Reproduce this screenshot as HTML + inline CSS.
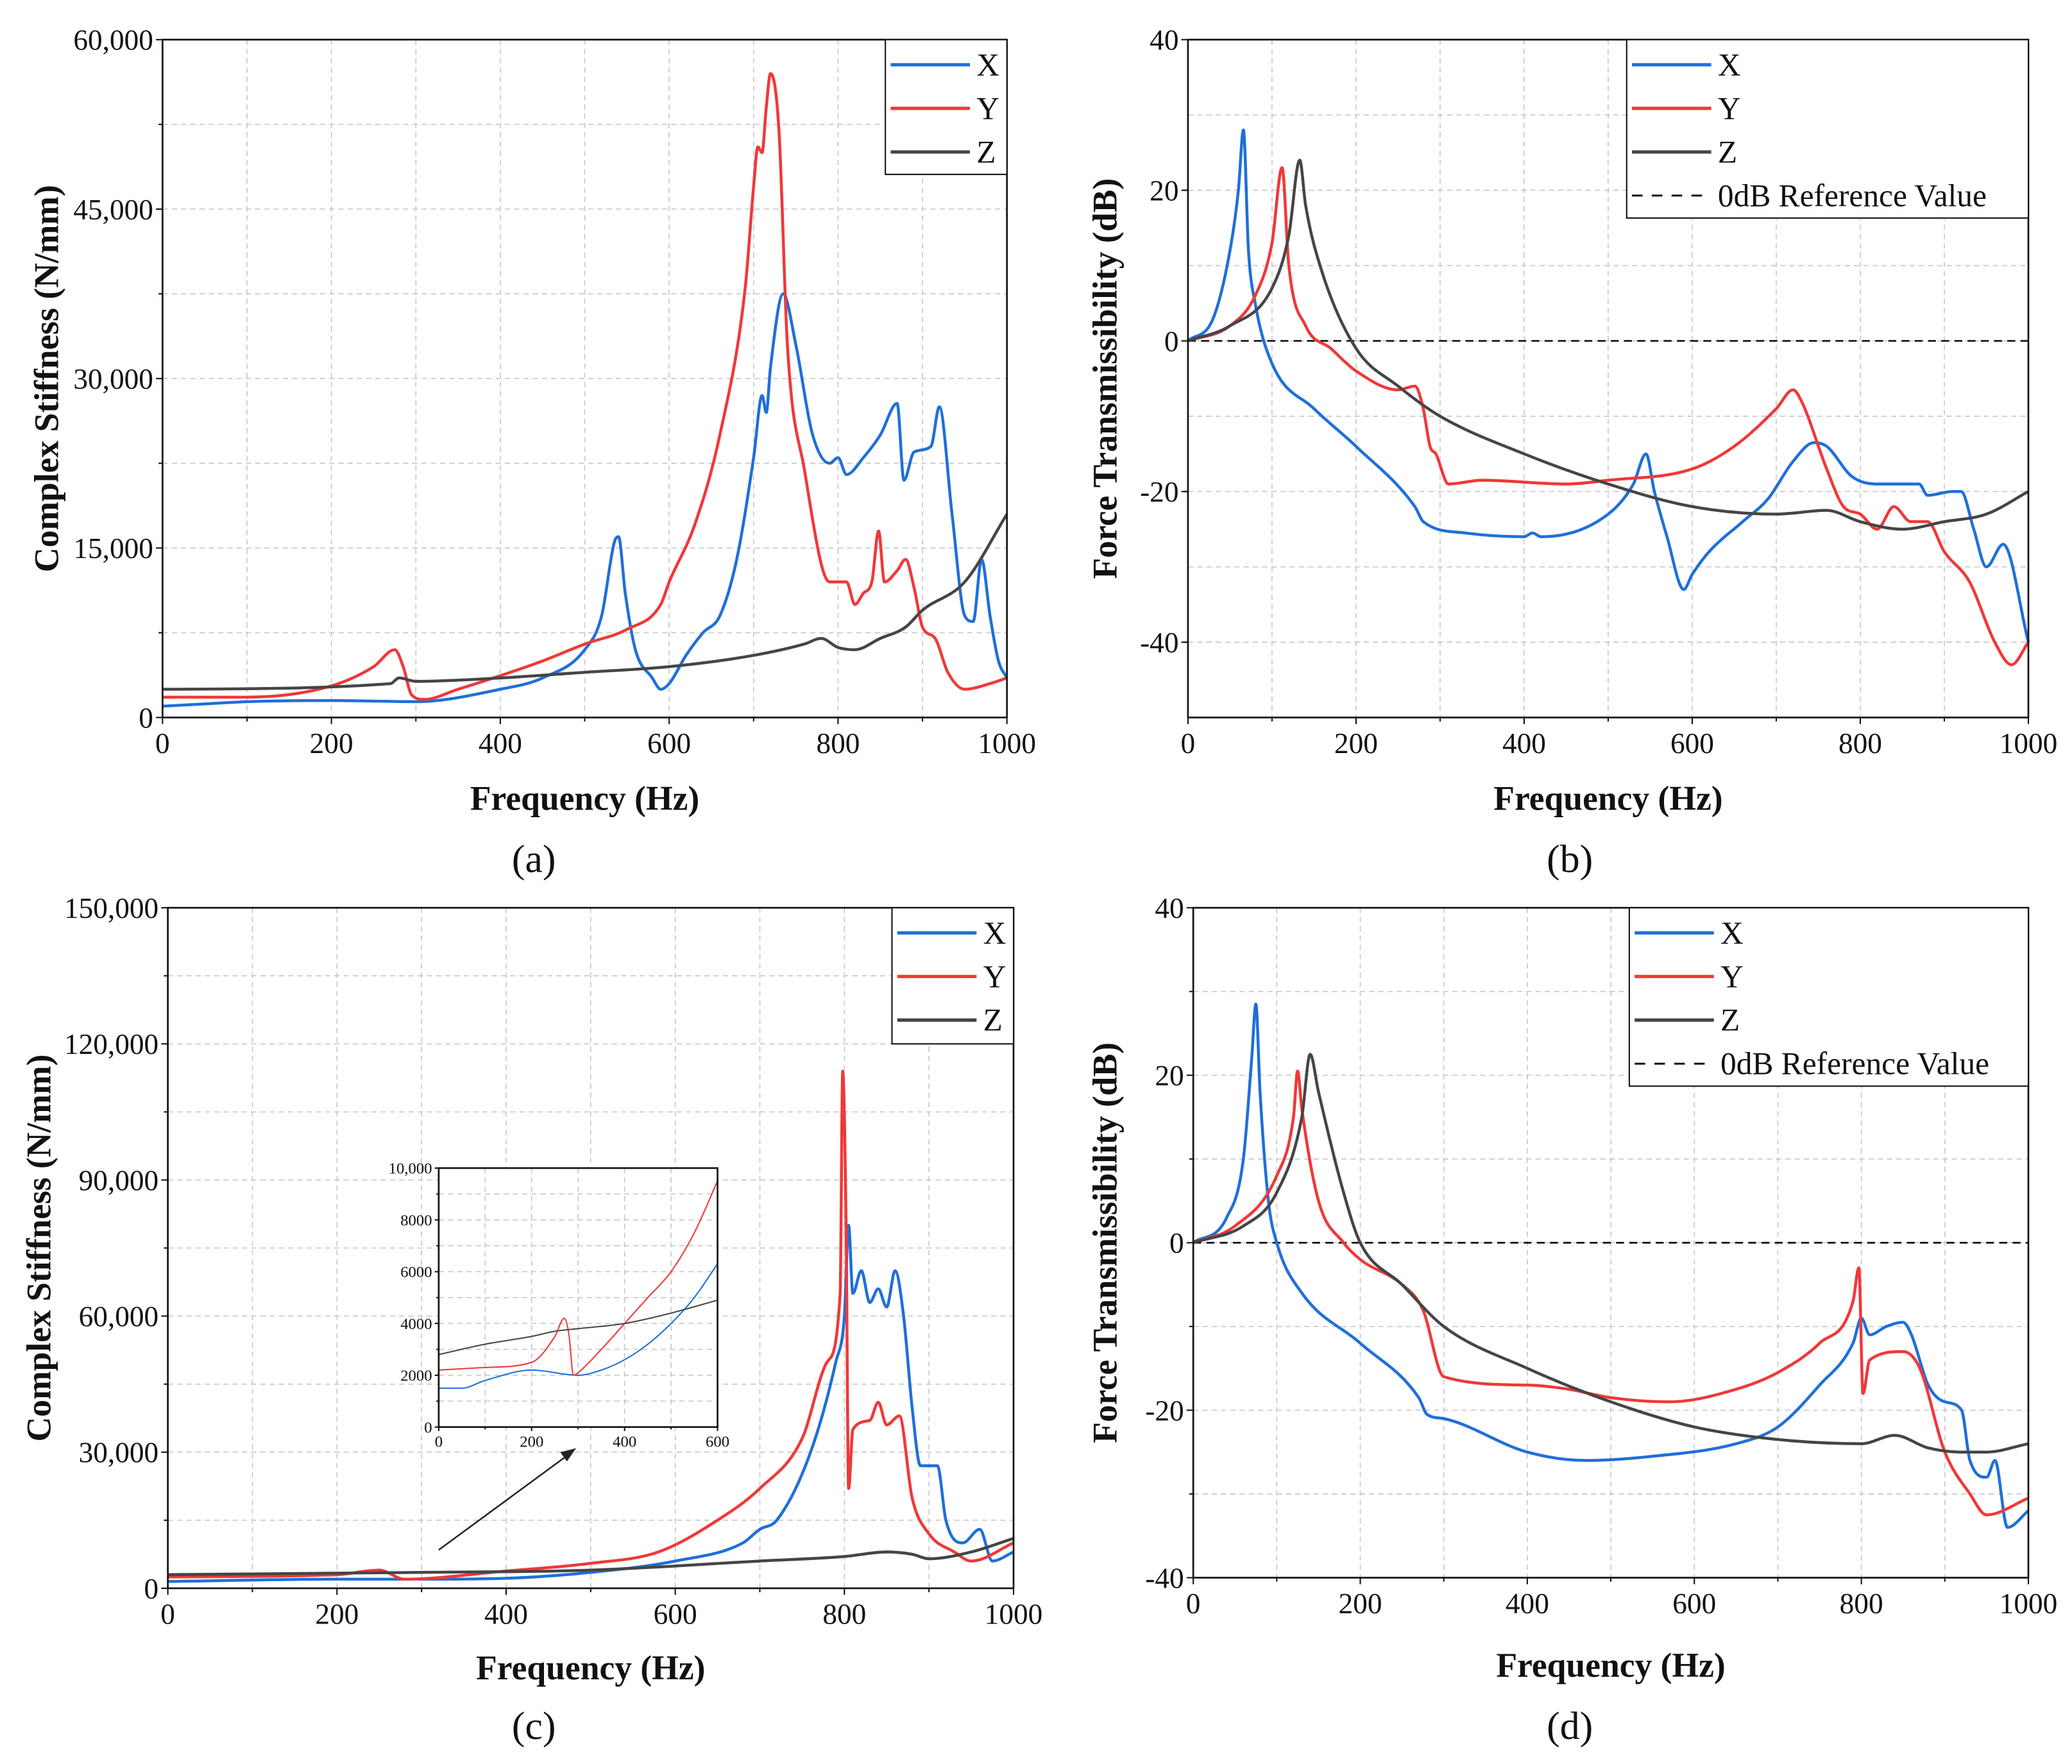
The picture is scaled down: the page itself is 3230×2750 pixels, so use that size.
<!DOCTYPE html>
<html><head><meta charset="utf-8"><style>
html,body{margin:0;padding:0;background:#fff}
svg{display:block}
text{font-family:"Liberation Serif",serif;fill:#111}
</style></head><body>
<svg id="fig" width="3230" height="2750" viewBox="0 0 1568 1335" xmlns="http://www.w3.org/2000/svg"></svg>
<script>
// ---- Data ----
const aF_X=[0,50,100,200,300,400,450,500,520,535,540,548,560,580,590,600,620,640,660,680,700,710,715,720,735,750,770,790,800,810,830,850,870,878,890,910,920,935,950,960,970,980,990,1000];
const aV_X=[1000,1200,1400,1500,1400,2500,3500,6000,9000,15500,16000,11000,6000,3500,2500,3000,5500,7500,9000,14000,23000,28500,27000,31000,37500,33000,25000,22500,23000,21500,23000,25000,27800,21000,23500,24000,27500,18000,9000,8500,14000,9000,5000,3500];
const aF_Y=[0,100,200,250,275,285,295,310,350,400,450,500,550,590,600,630,660,690,700,705,710,715,720,730,740,760,790,810,820,830,840,848,855,870,880,890,900,915,930,950,980,1000];
const aV_Y=[1800,1800,2800,4500,6000,4500,2000,1600,2500,3700,5000,6500,7800,10000,12000,17000,25000,38000,47000,50500,50000,54000,57000,52000,33000,22000,12000,12000,10000,11000,12000,16500,12000,13000,14000,11500,8000,7000,4000,2500,3000,3500];
const aF_Z=[0,270,280,300,400,500,600,700,760,780,800,820,850,880,900,950,1000];
const aV_Z=[2500,3000,3500,3200,3500,4000,4500,5500,6500,7000,6200,6000,7000,8000,9500,12000,18000];

const bF_X=[0,30,50,60,66,72,80,100,150,200,270,280,330,400,410,420,500,530,545,555,570,590,600,620,660,690,720,745,760,790,820,870,880,910,920,935,950,970,1000];
const bV_X=[0,3,12,20,28,12,5,-3,-9,-14,-22,-24,-25.5,-26,-25.5,-26,-23,-19,-15,-20,-26,-33,-31,-28,-24,-21,-16,-13.5,-14,-18,-19,-19,-20.5,-20,-20,-25,-30,-27,-40];
const bF_Y=[0,50,80,100,112,120,140,170,200,250,270,280,288,295,310,350,450,500,600,650,700,720,730,760,780,800,820,840,860,880,900,930,960,980,1000];
const bV_Y=[0,2,6,13,23,10,2,-1,-4,-6.5,-6,-9,-14,-15,-19,-18.5,-19,-18.5,-17,-14,-9,-6.5,-8,-17,-22,-23,-25,-22,-24,-24,-28,-32,-40,-43,-40];
const bF_Z=[0,50,100,120,133,140,160,200,250,300,400,500,600,700,760,800,850,900,950,1000];
const bV_Z=[0,2,7,14,24,18,9,-1,-6,-10,-15,-19,-22,-23,-22.5,-24,-25,-24,-23,-20];

const cF_X=[0,200,300,400,500,600,680,700,720,760,790,800,805,810,820,830,840,850,860,870,880,890,910,920,940,960,975,1000];
const cV_X=[1500,2000,2000,2200,3500,6000,10000,13000,15000,30000,50000,60000,80000,65000,70000,63000,66000,62000,70000,60000,40000,27000,27000,15000,10000,13000,6000,8000];
const cF_Y=[0,200,250,280,400,500,580,650,700,750,780,795,798,802,805,810,830,840,850,865,880,900,930,950,1000];
const cV_Y=[2500,3000,4000,2000,3800,5500,8000,15000,22000,33000,50000,65000,114000,80000,22000,35000,37000,41000,36000,38000,20000,12000,8000,6000,10000];
const cF_Z=[0,300,500,700,800,850,880,900,950,1000];
const cV_Z=[3000,3500,4000,6000,7000,8000,7500,6500,8000,11000];

const iF_X=[0,50,100,200,300,350,400,450,500,550,600];
const iV_X=[1500,1500,1800,2200,2000,2200,2600,3200,4000,5000,6300];
const iF_Y=[0,100,200,250,270,280,290,300,350,400,450,500,550,600];
const iV_Y=[2200,2300,2500,3500,4200,3600,2000,2100,3000,4000,5000,6000,7500,9500];
const iF_Z=[0,100,200,250,300,400,500,600];
const iV_Z=[2800,3200,3500,3700,3800,4000,4400,4900];

const dF_X=[0,40,60,70,75,80,90,100,130,200,270,280,300,400,470,550,650,700,750,790,800,810,830,850,860,880,900,920,930,950,960,975,1000];
const dV_X=[0,3,10,22,28.5,18,5,0,-6,-12,-18.5,-20.5,-21,-25,-26,-25.5,-24,-22,-17,-12,-9,-11,-10,-9.5,-11,-17,-19,-20,-26,-28,-26,-34,-32];
const dF_Y=[0,50,100,120,125,130,150,180,200,250,275,300,400,450,500,570,650,700,750,790,797,802,810,850,870,900,930,950,1000];
const dV_Y=[0,2,8,15,20.5,16,5,0,-2,-5,-8,-16,-17,-17.5,-18.5,-19,-17.5,-15.5,-12,-7,-3,-18,-14,-13,-15,-25,-30,-32.5,-30.5];
const dF_Z=[0,60,100,130,140,150,180,200,250,300,400,500,600,700,800,840,880,920,950,1000];
const dV_Z=[0,2,6,15,22.5,18,6,0,-5,-10,-15,-19,-22,-23.5,-24,-23,-24.5,-25,-25,-24];

const xTicks=[0,200,400,600,800,1000];
const aYTicks=[0,15000,30000,45000,60000];
const bYTicks=[-40,-20,0,20,40];
const cYTicks=[0,30000,60000,90000,120000,150000];
const iYTicks=[0,2000,4000,6000,8000,10000];
const iXTicks=[0,200,400,600];

const BLUE='#1f6fd9',RED='#f03838',GRAY='#454545';
const NS='http://www.w3.org/2000/svg';
const svg=document.getElementById('fig');
function mk(tag,attrs,parent){const e=document.createElementNS(NS,tag);for(const k in attrs)e.setAttribute(k,attrs[k]);(parent||svg).appendChild(e);return e;}
function fmt(v){return Math.abs(v)>=10000?v.toLocaleString('en-US'):String(v);}

// monotone cubic path through pixel points
function smoothPath(X,Y){
  const n=X.length;if(n<3)return X.map((x,i)=>(i?'L':'M')+x+','+Y[i]).join(' ');
  const d=[],m=new Array(n);
  for(let i=0;i<n-1;i++)d.push((Y[i+1]-Y[i])/(X[i+1]-X[i]));
  m[0]=d[0];m[n-1]=d[n-2];
  for(let i=1;i<n-1;i++){m[i]=(d[i-1]*d[i]<=0)?0:(d[i-1]+d[i])/2;}
  for(let i=0;i<n-1;i++){
    if(d[i]===0){m[i]=0;m[i+1]=0;continue;}
    const a=m[i]/d[i],b=m[i+1]/d[i],s=a*a+b*b;
    if(s>9){const t=3/Math.sqrt(s);m[i]=t*a*d[i];m[i+1]=t*b*d[i];}
  }
  let p='M'+X[0].toFixed(2)+','+Y[0].toFixed(2);
  for(let i=0;i<n-1;i++){
    const h=(X[i+1]-X[i])/3;
    p+=' C'+(X[i]+h).toFixed(2)+','+(Y[i]+m[i]*h).toFixed(2)+' '+(X[i+1]-h).toFixed(2)+','+(Y[i+1]-m[i+1]*h).toFixed(2)+' '+X[i+1].toFixed(2)+','+Y[i+1].toFixed(2);
  }
  return p;
}

function panel(p){
  const g=mk('g',{});
  
  
  const sx=v=>p.x0+(v-p.xmin)/(p.xmax-p.xmin)*(p.x1-p.x0);
  const sy=v=>p.y1-(v-p.ymin)/(p.ymax-p.ymin)*(p.y1-p.y0);
  const xs=p.xStep/2, ys=p.yStep/2;
  for(let v=p.xmin+xs;v<p.xmax-1e-9;v+=xs){const l=mk('line',{x1:sx(v),x2:sx(v),y1:p.y0,y2:p.y1,stroke:'#c8c8c8','stroke-width':0.8,'stroke-dasharray':'4,3'},g);}
  for(let v=p.ymin+ys;v<p.ymax-1e-9;v+=ys){const l=mk('line',{x1:p.x0,x2:p.x1,y1:sy(v),y2:sy(v),stroke:'#c8c8c8','stroke-width':0.8,'stroke-dasharray':'4,3'},g);}
  if(p.zeroRef){const l=mk('line',{x1:p.x0,x2:p.x1,y1:sy(0),y2:sy(0),stroke:'#111','stroke-width':1.3,'stroke-dasharray':'6,4'},g);}
  p.series.forEach(s=>{
    const d=smoothPath(s.f.map(sx),s.v.map(sy));
    const path=mk('path',{d:d,fill:'none',stroke:s.c,'stroke-width':p.lw||2.2,'stroke-linejoin':'round'},g);
    
    
  });
  const fr=mk('rect',{x:p.x0,y:p.y0,width:p.x1-p.x0,height:p.y1-p.y0,fill:'none',stroke:'#111','stroke-width':1.3},g);
  
  const tl=p.tl||5;
  p.xTicks.forEach(v=>{
    mk('line',{x1:sx(v),x2:sx(v),y1:p.y1,y2:p.y1+tl,stroke:'#111','stroke-width':1},g);
    const t=mk('text',{x:sx(v),y:p.y1+tl+p.fs,'font-size':p.fs,'text-anchor':'middle'},g);t.textContent=fmt(v);
    
  });
  for(let v=p.xmin+xs;v<p.xmax;v+=p.xStep)mk('line',{x1:sx(v),x2:sx(v),y1:p.y1,y2:p.y1+tl*0.6,stroke:'#111','stroke-width':1},g);
  p.yTicks.forEach(v=>{
    mk('line',{x1:p.x0-tl,x2:p.x0,y1:sy(v),y2:sy(v),stroke:'#111','stroke-width':1},g);
    const t=mk('text',{x:p.x0-tl-2,y:sy(v)+p.fs*0.35,'font-size':p.fs,'text-anchor':'end'},g);t.textContent=fmt(v);
    
  });
  for(let v=p.ymin+ys;v<p.ymax;v+=p.yStep)mk('line',{x1:p.x0-tl*0.6,x2:p.x0,y1:sy(v),y2:sy(v),stroke:'#111','stroke-width':1},g);
  if(p.xTitle){const t=mk('text',{x:(p.x0+p.x1)/2,y:p.xTitleY,'font-size':26,'font-weight':'bold','text-anchor':'middle'},g);t.textContent=p.xTitle;}
  if(p.yTitle){const cy=(p.y0+p.y1)/2;const t=mk('text',{x:p.yTitleX,y:cy,'font-size':26,'font-weight':'bold','text-anchor':'middle',transform:`rotate(-90 ${p.yTitleX} ${cy})`},g);t.textContent=p.yTitle;}
  if(p.legend){
    const L=p.legend;
    const lg=mk('g',{},g);
    mk('rect',{x:L.x,y:L.y,width:L.w,height:L.h,fill:'#fff',stroke:'#111','stroke-width':1},lg);
    L.items.forEach((it,i)=>{
      const yy=L.y+19+i*33;
      mk('line',{x1:L.x+4,x2:L.x+64,y1:yy,y2:yy,stroke:it.c,'stroke-width':it.dash?1.5:2.5,'stroke-dasharray':it.dash?'8,7':''},lg);
      const t=mk('text',{x:L.x+69,y:yy+8,'font-size':24},lg);t.textContent=it.t;
      
    });
  }
  return {sx,sy};
}
const leg3=[{c:BLUE,t:'X'},{c:RED,t:'Y'},{c:GRAY,t:'Z'}];
const leg4=leg3.concat([{c:'#111',t:'0dB Reference Value',dash:true}]);

panel({name:'panel-a',x0:123,x1:762,y0:30,y1:543,xmin:0,xmax:1000,ymin:0,ymax:60000,xStep:200,yStep:15000,xTicks:xTicks,yTicks:aYTicks,fs:22,
  series:[{n:'x',f:aF_X,v:aV_X,c:BLUE},{n:'y',f:aF_Y,v:aV_Y,c:RED},{n:'z',f:aF_Z,v:aV_Z,c:GRAY}],
  xTitle:'Frequency (Hz)',xTitleY:613,yTitle:'Complex Stiffness (N/mm)',yTitleX:44,legend:{x:670,y:30,w:92,h:102,items:leg3}});
panel({name:'panel-b',x0:899,x1:1535,y0:30,y1:543,xmin:0,xmax:1000,ymin:-50,ymax:40,xStep:200,yStep:20,xTicks:xTicks,yTicks:bYTicks,fs:22,zeroRef:true,
  series:[{n:'x',f:bF_X,v:bV_X,c:BLUE},{n:'y',f:bF_Y,v:bV_Y,c:RED},{n:'z',f:bF_Z,v:bV_Z,c:GRAY}],
  xTitle:'Frequency (Hz)',xTitleY:613,yTitle:'Force Transmissibility (dB)',yTitleX:845,legend:{x:1231,y:30,w:304,h:135,items:leg4}});
panel({name:'panel-c',x0:127,x1:767,y0:687,y1:1202,xmin:0,xmax:1000,ymin:0,ymax:150000,xStep:200,yStep:30000,xTicks:xTicks,yTicks:cYTicks,fs:22,
  series:[{n:'x',f:cF_X,v:cV_X,c:BLUE},{n:'y',f:cF_Y,v:cV_Y,c:RED},{n:'z',f:cF_Z,v:cV_Z,c:GRAY}],
  xTitle:'Frequency (Hz)',xTitleY:1271,yTitle:'Complex Stiffness (N/mm)',yTitleX:38,legend:{x:675,y:687,w:92,h:103,items:leg3}});
mk('rect',{x:332,y:884,width:211,height:196,fill:'#fff'});
panel({name:'panel-c-inset',x0:332,x1:543,y0:884,y1:1080,xmin:0,xmax:600,ymin:0,ymax:10000,xStep:200,yStep:2000,xTicks:iXTicks,yTicks:iYTicks,fs:12,tl:3,lw:1,
  series:[{n:'x-inset',f:iF_X,v:iV_X,c:BLUE},{n:'y-inset',f:iF_Y,v:iV_Y,c:RED},{n:'z-inset',f:iF_Z,v:iV_Z,c:GRAY}]});
const ar=mk('line',{x1:332,y1:1173,x2:430,y2:1101,stroke:'#222','stroke-width':1.2});

mk('polygon',{points:'436,1096 424,1099 429,1106',fill:'#222'});
panel({name:'panel-d',x0:903,x1:1535,y0:687,y1:1194,xmin:0,xmax:1000,ymin:-40,ymax:40,xStep:200,yStep:20,xTicks:xTicks,yTicks:bYTicks,fs:22,zeroRef:true,
  series:[{n:'x',f:dF_X,v:dV_X,c:BLUE},{n:'y',f:dF_Y,v:dV_Y,c:RED},{n:'z',f:dF_Z,v:dV_Z,c:GRAY}],
  xTitle:'Frequency (Hz)',xTitleY:1269,yTitle:'Force Transmissibility (dB)',yTitleX:845,legend:{x:1233,y:687,w:302,h:135,items:leg4}});
[['(a)',404,660],['(b)',1188,660],['(c)',404,1316],['(d)',1188,1316]].forEach(a=>{
  const t=mk('text',{x:a[1],y:a[2],'font-size':30,'text-anchor':'middle'});t.textContent=a[0];
  
});
</script>
</body></html>
